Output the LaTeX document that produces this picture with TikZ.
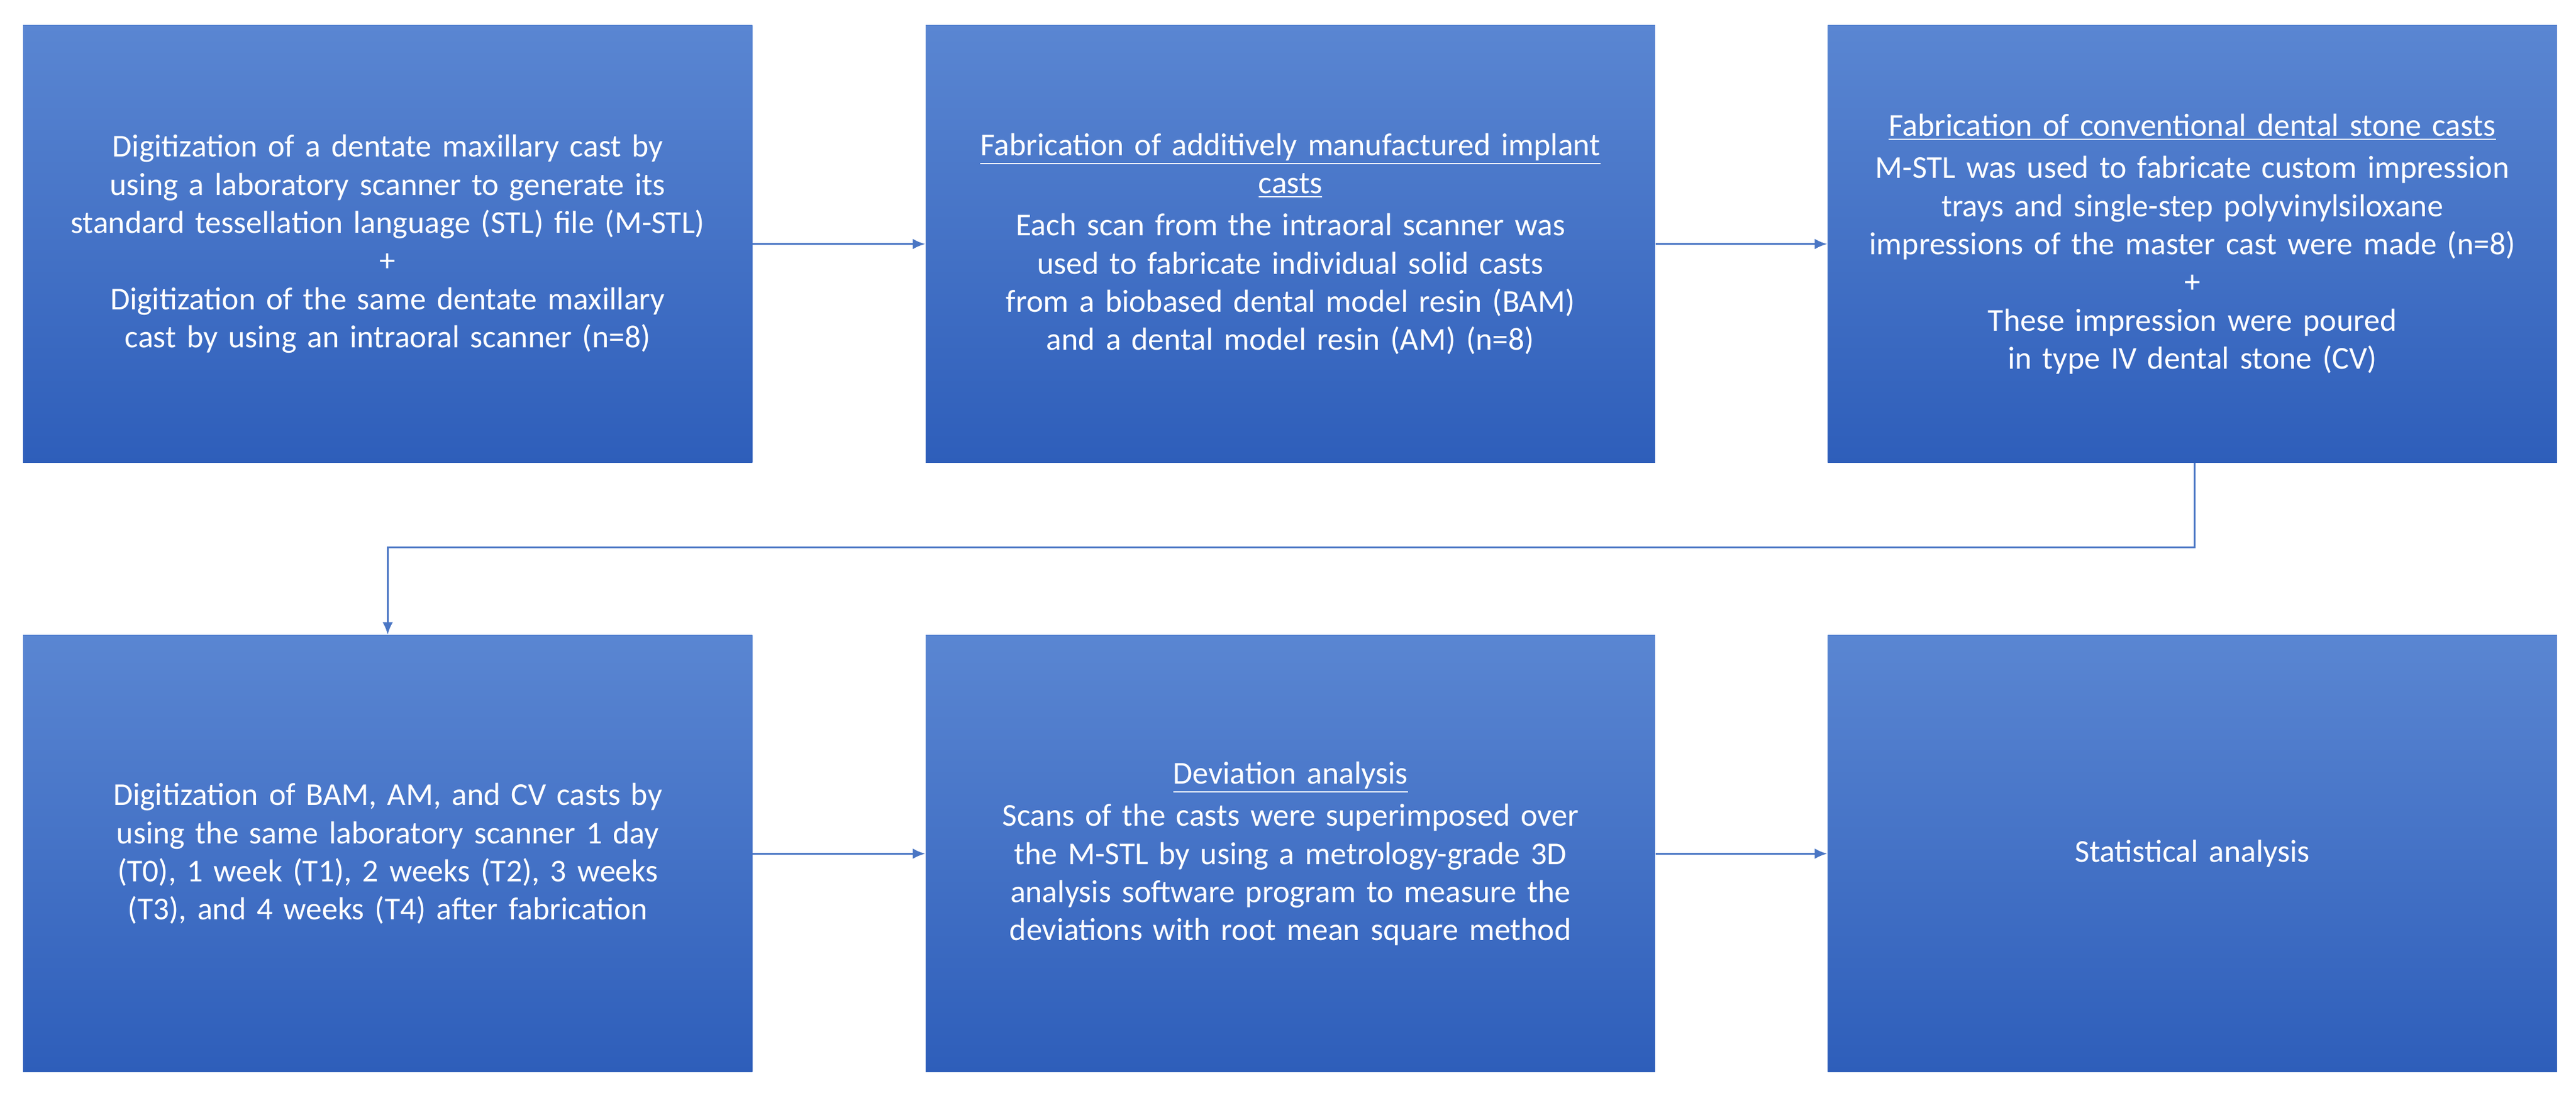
\documentclass[tikz,border=0pt]{standalone}
\usepackage{fontspec}
\setmainfont{Carlito}
\usetikzlibrary{arrows.meta}
\begin{document}
\hyphenpenalty=10000
\exhyphenpenalty=10000
\begin{tikzpicture}[x=0.02772cm,y=-0.02772cm,
box/.style={draw=none,top color=blue1,bottom color=blue2,minimum width=444*0.02772cm,minimum height=266*0.02772cm,text width=12.1cm,align=center,text=white,font=\fontsize{15.3}{18.3}\selectfont,inner sep=0pt},
arr/.style={draw=line,line width=0.9pt,-{Latex[length=6pt,width=5pt]}}]
\definecolor{blue1}{HTML}{5A86D2}
\definecolor{blue2}{HTML}{2E5EBA}
\definecolor{line}{HTML}{4A76C4}
\fill[white] (0,0) rectangle (1568,665);
\node[box] (a) at (236,148.5) {Digitization of a dentate maxillary cast by using a laboratory scanner to generate its standard tessellation language (STL) file (M-STL)\\+\\Digitization of the same dentate maxillary cast by using an intraoral scanner (n=8)};
\node[box] (b) at (785.5,148.5) {\underline{Fabrication of additively manufactured implant}\\\underline{casts}\\[2pt]Each scan from the intraoral scanner was used to fabricate individual solid casts from a biobased dental model resin (BAM) and a dental model resin (AM) (n=8)};
\node[box] (c) at (1334.5,148.5) {\underline{Fabrication of conventional dental stone casts}\\[2pt]M-STL was used to fabricate custom impression trays and single-step polyvinylsiloxane impressions of the master cast were made (n=8)\\+\\These impression were poured in type IV dental stone (CV)};
\node[box] (d) at (236,519.5) {Digitization of BAM, AM, and CV casts by using the same laboratory scanner 1 day (T0), 1 week (T1), 2 weeks (T2), 3 weeks (T3), and 4 weeks (T4) after fabrication};
\node[box] (e) at (785.5,519.5) {\underline{Deviation analysis}\\[2pt]Scans of the casts were superimposed over the M-STL by using a metrology-grade 3D analysis software program to measure the deviations with root mean square method};
\node[box] (f) at (1334.5,519.5) {Statistical analysis};
\draw[arr] (a) -- (b);
\draw[arr] (b) -- (c);
\coordinate (k1) at (1336,333);
\coordinate (k2) at (236,333);
\draw[arr] (c.south -| k1) -- (k1) -- (k2) -- (d.north -| k2);
\draw[arr] (d) -- (e);
\draw[arr] (e) -- (f);
\end{tikzpicture}
\end{document}
